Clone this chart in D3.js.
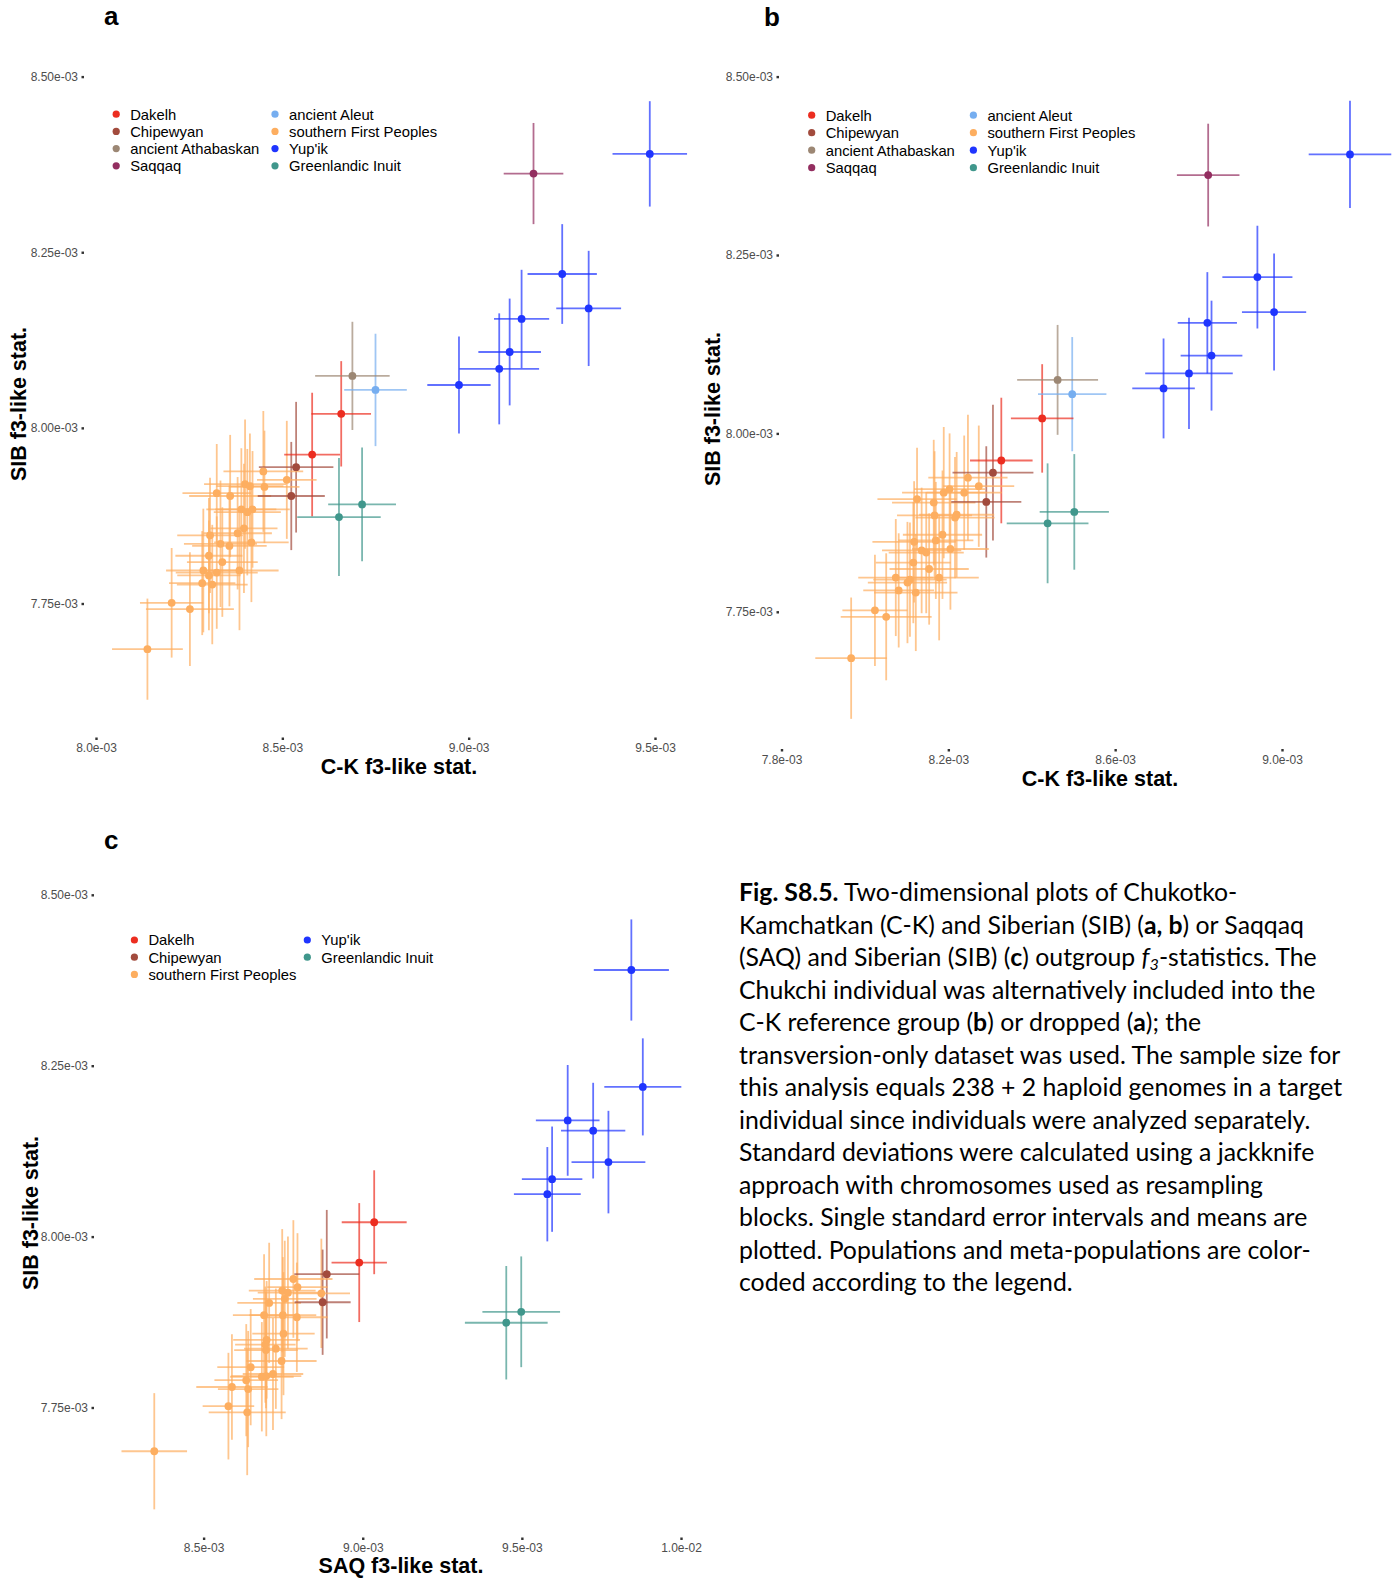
<!DOCTYPE html>
<html>
<head>
<meta charset="utf-8">
<script src="https://cdn.jsdelivr.net/npm/d3@7"></script>
<style>
  body { margin: 0; background: #fff; }
  svg { display: block; }
</style>
</head>
<body>
<svg id="fig" width="1398" height="1585"></svg>
<script>
// ---- groups and colours -------------------------------------------------
const groups = ["Dakelh", "Chipewyan", "ancient Athabaskan", "Saqqaq",
                "ancient Aleut", "southern First Peoples", "Yup'ik", "Greenlandic Inuit"];
const groupColors = ["#EC2D20", "#A24B3D", "#9C8774", "#932E60",
                     "#76AEF0", "#FDAE60", "#1F35FF", "#40978C"];

// legend entries per panel (filled column-wise)
const legendAB = ["Dakelh", "Chipewyan", "ancient Athabaskan", "Saqqaq",
                  "ancient Aleut", "southern First Peoples", "Yup'ik", "Greenlandic Inuit"];
const legendC = ["Dakelh", "Chipewyan", "southern First Peoples", "Yup'ik", "Greenlandic Inuit"];

// ---- ticks ---------------------------------------------------------------
const ySIBTicks = [7.75e-3, 8.00e-3, 8.25e-3, 8.50e-3];
const ySIBLabels = ["7.75e-03", "8.00e-03", "8.25e-03", "8.50e-03"];
const xTicksA = [8.0e-3, 8.5e-3, 9.0e-3, 9.5e-3];
const xLabelsA = ["8.0e-03", "8.5e-03", "9.0e-03", "9.5e-03"];
const xTicksB = [7.8e-3, 8.2e-3, 8.6e-3, 9.0e-3];
const xLabelsB = ["7.8e-03", "8.2e-03", "8.6e-03", "9.0e-03"];
const xTicksC = [8.5e-3, 9.0e-3, 9.5e-3, 1.0e-2];
const xLabelsC = ["8.5e-03", "9.0e-03", "9.5e-03", "1.0e-02"];

// ---- f3 statistics: [group, x, x s.e., SIB, SIB s.e.], values in units of 1e-3
const UNIT = 1e-3;

// (a) C-K (Chukchi dropped) vs SIB
const pointsA = [
  ["southern First Peoples", 8.138, 0.095, 7.685, 0.072],
  ["southern First Peoples", 8.203, 0.085, 7.751, 0.078],
  ["southern First Peoples", 8.252, 0.118, 7.742, 0.081],
  ["southern First Peoples", 8.285, 0.089, 7.779, 0.074],
  ["southern First Peoples", 8.312, 0.095, 7.777, 0.085],
  ["southern First Peoples", 8.288, 0.100, 7.797, 0.088],
  ["southern First Peoples", 8.303, 0.085, 7.790, 0.078],
  ["southern First Peoples", 8.324, 0.110, 7.794, 0.080],
  ["southern First Peoples", 8.303, 0.090, 7.818, 0.082],
  ["southern First Peoples", 8.339, 0.095, 7.809, 0.078],
  ["southern First Peoples", 8.385, 0.105, 7.797, 0.085],
  ["southern First Peoples", 8.306, 0.088, 7.847, 0.082],
  ["southern First Peoples", 8.334, 0.098, 7.835, 0.090],
  ["southern First Peoples", 8.358, 0.100, 7.832, 0.086],
  ["southern First Peoples", 8.380, 0.092, 7.850, 0.080],
  ["southern First Peoples", 8.397, 0.090, 7.857, 0.092],
  ["southern First Peoples", 8.417, 0.100, 7.837, 0.085],
  ["southern First Peoples", 8.390, 0.094, 7.884, 0.087],
  ["southern First Peoples", 8.420, 0.100, 7.884, 0.083],
  ["southern First Peoples", 8.406, 0.090, 7.880, 0.090],
  ["southern First Peoples", 8.324, 0.092, 7.907, 0.070],
  ["southern First Peoples", 8.360, 0.110, 7.903, 0.087],
  ["southern First Peoples", 8.400, 0.110, 7.920, 0.092],
  ["southern First Peoples", 8.413, 0.090, 7.917, 0.075],
  ["southern First Peoples", 8.449, 0.107, 7.938, 0.086],
  ["southern First Peoples", 8.452, 0.094, 7.916, 0.080],
  ["southern First Peoples", 8.512, 0.080, 7.926, 0.084],
  ["Dakelh", 8.658, 0.080, 8.020, 0.075],
  ["Dakelh", 8.580, 0.075, 7.962, 0.088],
  ["Chipewyan", 8.537, 0.100, 7.944, 0.093],
  ["Chipewyan", 8.524, 0.090, 7.903, 0.077],
  ["ancient Athabaskan", 8.688, 0.100, 8.074, 0.077],
  ["Saqqaq", 9.174, 0.080, 8.362, 0.072],
  ["ancient Aleut", 8.750, 0.084, 8.054, 0.080],
  ["Yup'ik", 9.486, 0.100, 8.390, 0.075],
  ["Yup'ik", 9.251, 0.093, 8.219, 0.071],
  ["Yup'ik", 9.322, 0.087, 8.170, 0.082],
  ["Yup'ik", 9.142, 0.074, 8.155, 0.070],
  ["Yup'ik", 9.110, 0.084, 8.108, 0.076],
  ["Yup'ik", 9.082, 0.107, 8.084, 0.079],
  ["Yup'ik", 8.974, 0.085, 8.061, 0.069],
  ["Greenlandic Inuit", 8.714, 0.091, 7.891, 0.081],
  ["Greenlandic Inuit", 8.652, 0.112, 7.873, 0.084]
];

// (b) C-K (Chukchi included) vs SIB
const pointsB = [
  ["southern First Peoples", 7.967, 0.086, 7.685, 0.085],
  ["southern First Peoples", 8.024, 0.078, 7.752, 0.078],
  ["southern First Peoples", 8.051, 0.109, 7.743, 0.089],
  ["southern First Peoples", 8.074, 0.090, 7.798, 0.082],
  ["southern First Peoples", 8.081, 0.085, 7.780, 0.080],
  ["southern First Peoples", 8.102, 0.095, 7.791, 0.085],
  ["southern First Peoples", 8.108, 0.088, 7.795, 0.080],
  ["southern First Peoples", 8.122, 0.100, 7.777, 0.082],
  ["southern First Peoples", 8.116, 0.090, 7.819, 0.085],
  ["southern First Peoples", 8.154, 0.095, 7.810, 0.078],
  ["southern First Peoples", 8.178, 0.095, 7.798, 0.088],
  ["southern First Peoples", 8.118, 0.100, 7.848, 0.085],
  ["southern First Peoples", 8.136, 0.095, 7.836, 0.088],
  ["southern First Peoples", 8.147, 0.090, 7.833, 0.085],
  ["southern First Peoples", 8.170, 0.090, 7.850, 0.082],
  ["southern First Peoples", 8.186, 0.095, 7.858, 0.090],
  ["southern First Peoples", 8.205, 0.092, 7.838, 0.085],
  ["southern First Peoples", 8.167, 0.090, 7.885, 0.090],
  ["southern First Peoples", 8.216, 0.095, 7.882, 0.085],
  ["southern First Peoples", 8.220, 0.090, 7.886, 0.088],
  ["southern First Peoples", 8.125, 0.095, 7.908, 0.072],
  ["southern First Peoples", 8.165, 0.100, 7.903, 0.088],
  ["southern First Peoples", 8.189, 0.100, 7.917, 0.092],
  ["southern First Peoples", 8.203, 0.085, 7.922, 0.078],
  ["southern First Peoples", 8.247, 0.095, 7.938, 0.088],
  ["southern First Peoples", 8.238, 0.090, 7.917, 0.080],
  ["southern First Peoples", 8.273, 0.085, 7.926, 0.085],
  ["Dakelh", 8.425, 0.075, 8.021, 0.076],
  ["Dakelh", 8.327, 0.075, 7.962, 0.088],
  ["Chipewyan", 8.307, 0.097, 7.945, 0.095],
  ["Chipewyan", 8.291, 0.084, 7.904, 0.078],
  ["ancient Athabaskan", 8.462, 0.097, 8.075, 0.077],
  ["Saqqaq", 8.823, 0.075, 8.362, 0.072],
  ["ancient Aleut", 8.497, 0.082, 8.055, 0.080],
  ["Yup'ik", 9.163, 0.099, 8.391, 0.075],
  ["Yup'ik", 8.941, 0.084, 8.219, 0.072],
  ["Yup'ik", 8.981, 0.077, 8.170, 0.082],
  ["Yup'ik", 8.821, 0.071, 8.155, 0.071],
  ["Yup'ik", 8.831, 0.074, 8.109, 0.077],
  ["Yup'ik", 8.777, 0.105, 8.084, 0.078],
  ["Yup'ik", 8.716, 0.075, 8.063, 0.070],
  ["Greenlandic Inuit", 8.502, 0.083, 7.890, 0.081],
  ["Greenlandic Inuit", 8.438, 0.098, 7.874, 0.084]
];

// (c) SAQ vs SIB
const pointsC = [
  ["southern First Peoples", 8.345, 0.103, 7.686, 0.085],
  ["southern First Peoples", 8.578, 0.081, 7.752, 0.078],
  ["southern First Peoples", 8.637, 0.121, 7.743, 0.092],
  ["southern First Peoples", 8.589, 0.112, 7.780, 0.077],
  ["southern First Peoples", 8.640, 0.095, 7.777, 0.085],
  ["southern First Peoples", 8.634, 0.100, 7.790, 0.082],
  ["southern First Peoples", 8.648, 0.105, 7.809, 0.085],
  ["southern First Peoples", 8.683, 0.100, 7.795, 0.080],
  ["southern First Peoples", 8.697, 0.110, 7.796, 0.088],
  ["southern First Peoples", 8.718, 0.095, 7.799, 0.082],
  ["southern First Peoples", 8.745, 0.110, 7.818, 0.085],
  ["southern First Peoples", 8.696, 0.100, 7.834, 0.085],
  ["southern First Peoples", 8.727, 0.100, 7.836, 0.088],
  ["southern First Peoples", 8.694, 0.095, 7.842, 0.085],
  ["southern First Peoples", 8.698, 0.105, 7.849, 0.086],
  ["southern First Peoples", 8.751, 0.098, 7.858, 0.090],
  ["southern First Peoples", 8.690, 0.098, 7.885, 0.089],
  ["southern First Peoples", 8.749, 0.105, 7.885, 0.085],
  ["southern First Peoples", 8.793, 0.097, 7.882, 0.080],
  ["southern First Peoples", 8.706, 0.100, 7.903, 0.088],
  ["southern First Peoples", 8.755, 0.100, 7.909, 0.085],
  ["southern First Peoples", 8.747, 0.105, 7.921, 0.090],
  ["southern First Peoples", 8.765, 0.095, 7.918, 0.082],
  ["southern First Peoples", 8.795, 0.095, 7.926, 0.079],
  ["southern First Peoples", 8.782, 0.123, 7.938, 0.086],
  ["southern First Peoples", 8.870, 0.090, 7.917, 0.080],
  ["Dakelh", 9.036, 0.102, 8.021, 0.076],
  ["Dakelh", 8.989, 0.087, 7.962, 0.087],
  ["Chipewyan", 8.887, 0.102, 7.945, 0.094],
  ["Chipewyan", 8.874, 0.088, 7.904, 0.077],
  ["Yup'ik", 9.844, 0.118, 8.390, 0.074],
  ["Yup'ik", 9.880, 0.121, 8.219, 0.071],
  ["Yup'ik", 9.644, 0.100, 8.170, 0.081],
  ["Yup'ik", 9.724, 0.101, 8.155, 0.070],
  ["Yup'ik", 9.772, 0.116, 8.109, 0.075],
  ["Yup'ik", 9.595, 0.095, 8.084, 0.077],
  ["Yup'ik", 9.580, 0.105, 8.062, 0.069],
  ["Greenlandic Inuit", 9.498, 0.122, 7.890, 0.081],
  ["Greenlandic Inuit", 9.451, 0.130, 7.874, 0.083]
];

// ---- caption -------------------------------------------------------------
// segments: [style, text]; n = normal, b = bold, i = italic, s = italic subscript
const captionLines = [
  [["b", "Fig. S8.5."], ["n", " Two-dimensional plots of Chukotko-"]],
  [["n", "Kamchatkan (C-K) and Siberian (SIB) ("], ["b", "a, b"], ["n", ") or Saqqaq"]],
  [["n", "(SAQ) and Siberian (SIB) ("], ["b", "c"], ["n", ") outgroup "], ["i", "f"], ["s", "3"], ["n", "-statistics. The"]],
  [["n", "Chukchi individual was alternatively included into the"]],
  [["n", "C-K reference group ("], ["b", "b"], ["n", ") or dropped ("], ["b", "a"], ["n", "); the"]],
  [["n", "transversion-only dataset was used. The sample size for"]],
  [["n", "this analysis equals 238 + 2 haploid genomes in a target"]],
  [["n", "individual since individuals were analyzed separately."]],
  [["n", "Standard deviations were calculated using a jackknife"]],
  [["n", "approach with chromosomes used as resampling"]],
  [["n", "blocks. Single standard error intervals and means are"]],
  [["n", "plotted. Populations and meta-populations are color-"]],
  [["n", "coded according to the legend."]]
];

// ---- drawing -------------------------------------------------------------
const svg = d3.select("#fig");
const color = d3.scaleOrdinal().domain(groups).range(groupColors);
const AXIS_FONT = "'Liberation Sans', Arial, Helvetica, sans-serif";

const panels = [
  { tag: "a", data: pointsA, xTicks: xTicksA, xLabels: xLabelsA, legend: legendAB, nrow: 4,
    xRange: [96, 655], yRange: [603.5, 76.6], xAxisY: 737.5, yAxisX: 84,
    xTitle: "C-K f3-like stat.", xTitlePos: [399, 774], yTitlePos: [26, 404],
    tagPos: [104, 25], legendPos: { y0: 114.2, dy: 17.2, cols: [116.2, 275] } },
  { tag: "b", data: pointsB, xTicks: xTicksB, xLabels: xLabelsB, legend: legendAB, nrow: 4,
    xRange: [781.5, 1282], yRange: [611.8, 76.6], xAxisY: 749, yAxisX: 779,
    xTitle: "C-K f3-like stat.", xTitlePos: [1100, 786], yTitlePos: [719.5, 409],
    tagPos: [764, 26], legendPos: { y0: 115.2, dy: 17.5, cols: [811.7, 973.4] } },
  { tag: "c", data: pointsC, xTicks: xTicksC, xLabels: xLabelsC, legend: legendC, nrow: 3,
    xRange: [203.6, 681], yRange: [1407.5, 894.8], xAxisY: 1537.5, yAxisX: 94,
    xTitle: "SAQ f3-like stat.", xTitlePos: [401, 1573], yTitlePos: [38, 1213],
    tagPos: [104, 849], legendPos: { y0: 940, dy: 17.2, cols: [134.4, 307.3] } }
];

panels.forEach(p => {
  const g = svg.append("g").attr("class", "panel-" + p.tag);
  const x = d3.scaleLinear().domain(d3.extent(p.xTicks)).range(p.xRange);
  const y = d3.scaleLinear().domain(d3.extent(ySIBTicks)).range(p.yRange);

  // axes: small square ticks, no axis lines
  const yAxis = d3.axisLeft(y).tickValues(ySIBTicks)
    .tickFormat((d, i) => ySIBLabels[i]).tickSize(2.5).tickPadding(3.5);
  const xAxis = d3.axisBottom(x).tickValues(p.xTicks)
    .tickFormat((d, i) => p.xLabels[i]).tickSize(2.5).tickPadding(3.5);

  const ya = g.append("g").attr("transform", `translate(${p.yAxisX},0)`).call(yAxis);
  const xa = g.append("g").attr("transform", `translate(0,${p.xAxisY})`).call(xAxis);
  [ya, xa].forEach(a => {
    a.select(".domain").remove();
    a.selectAll(".tick line").attr("stroke", "#333").attr("stroke-width", 2.4);
    a.selectAll(".tick text").attr("fill", "#4D4D4D")
      .style("font-family", AXIS_FONT).style("font-size", "12px");
  });

  // error bars and means
  const pts = p.data.map(r => ({ group: r[0], x: r[1] * UNIT, xe: r[2] * UNIT, y: r[3] * UNIT, ye: r[4] * UNIT }));

  g.append("g").selectAll("line").data(pts).join("line")
    .attr("x1", d => x(d.x)).attr("x2", d => x(d.x))
    .attr("y1", d => y(d.y - d.ye)).attr("y2", d => y(d.y + d.ye))
    .attr("stroke", d => color(d.group)).attr("stroke-width", 1.8).attr("stroke-opacity", 0.7);

  g.append("g").selectAll("line").data(pts).join("line")
    .attr("x1", d => x(d.x - d.xe)).attr("x2", d => x(d.x + d.xe))
    .attr("y1", d => y(d.y)).attr("y2", d => y(d.y))
    .attr("stroke", d => color(d.group)).attr("stroke-width", 1.8).attr("stroke-opacity", 0.7);

  g.append("g").selectAll("circle").data(pts).join("circle")
    .attr("cx", d => x(d.x)).attr("cy", d => y(d.y)).attr("r", 3.9)
    .attr("fill", d => color(d.group));

  // legend (column-wise)
  const lg = g.append("g");
  p.legend.forEach((name, i) => {
    const col = Math.floor(i / p.nrow), row = i % p.nrow;
    const cx = p.legendPos.cols[col], cy = p.legendPos.y0 + row * p.legendPos.dy;
    lg.append("circle").attr("cx", cx).attr("cy", cy).attr("r", 3.6).attr("fill", color(name));
    lg.append("text").attr("x", cx + 14).attr("y", cy).attr("dy", "0.36em")
      .style("font-family", AXIS_FONT).style("font-size", "14.8px").attr("fill", "#000")
      .text(name);
  });

  // axis titles and panel tag
  g.append("text").attr("x", p.xTitlePos[0]).attr("y", p.xTitlePos[1])
    .attr("text-anchor", "middle").style("font-family", AXIS_FONT)
    .style("font-size", "21.5px").style("font-weight", "bold").text(p.xTitle);
  g.append("text").attr("transform", `translate(${p.yTitlePos[0]},${p.yTitlePos[1]}) rotate(-90)`)
    .attr("text-anchor", "middle").style("font-family", AXIS_FONT)
    .style("font-size", "21.5px").style("font-weight", "bold").text("SIB f3-like stat.");
  g.append("text").attr("x", p.tagPos[0]).attr("y", p.tagPos[1])
    .style("font-family", AXIS_FONT).style("font-size", "26px").style("font-weight", "bold")
    .text(p.tag);
});

// caption block
const CAP_FONT = "Lato, 'Open Sans', sans-serif";
const capX = 739, capY0 = 901, capDY = 32.5, capWidth = 601.5;
const cap = svg.append("g").style("font-family", CAP_FONT).attr("fill", "#000");

function writeLine(sel, segs, size) {
  segs.forEach(([st, txt]) => {
    const t = sel.append("tspan").text(txt);
    if (st === "b") t.style("font-weight", "bold");
    if (st === "i") t.style("font-style", "italic");
    if (st === "s") t.style("font-style", "italic").style("font-size", (size * 0.65) + "px").attr("dy", size * 0.18);
  });
  // restore baseline after subscript
  sel.selectAll("tspan").each(function (d, i, nodes) {
    const prev = i > 0 ? d3.select(nodes[i - 1]) : null;
    if (prev && prev.attr("dy") && !d3.select(this).attr("dy")) d3.select(this).attr("dy", -size * 0.18);
  });
}

// fit the font size to the measured column width
const probe = cap.append("text").style("font-size", "20px");
writeLine(probe, captionLines[5], 20);
const capSize = 20 * capWidth / probe.node().getComputedTextLength();
probe.remove();

captionLines.forEach((segs, i) => {
  const t = cap.append("text").attr("x", capX).attr("y", capY0 + i * capDY)
    .style("font-size", capSize + "px");
  writeLine(t, segs, capSize);
});
</script>
</body>
</html>
